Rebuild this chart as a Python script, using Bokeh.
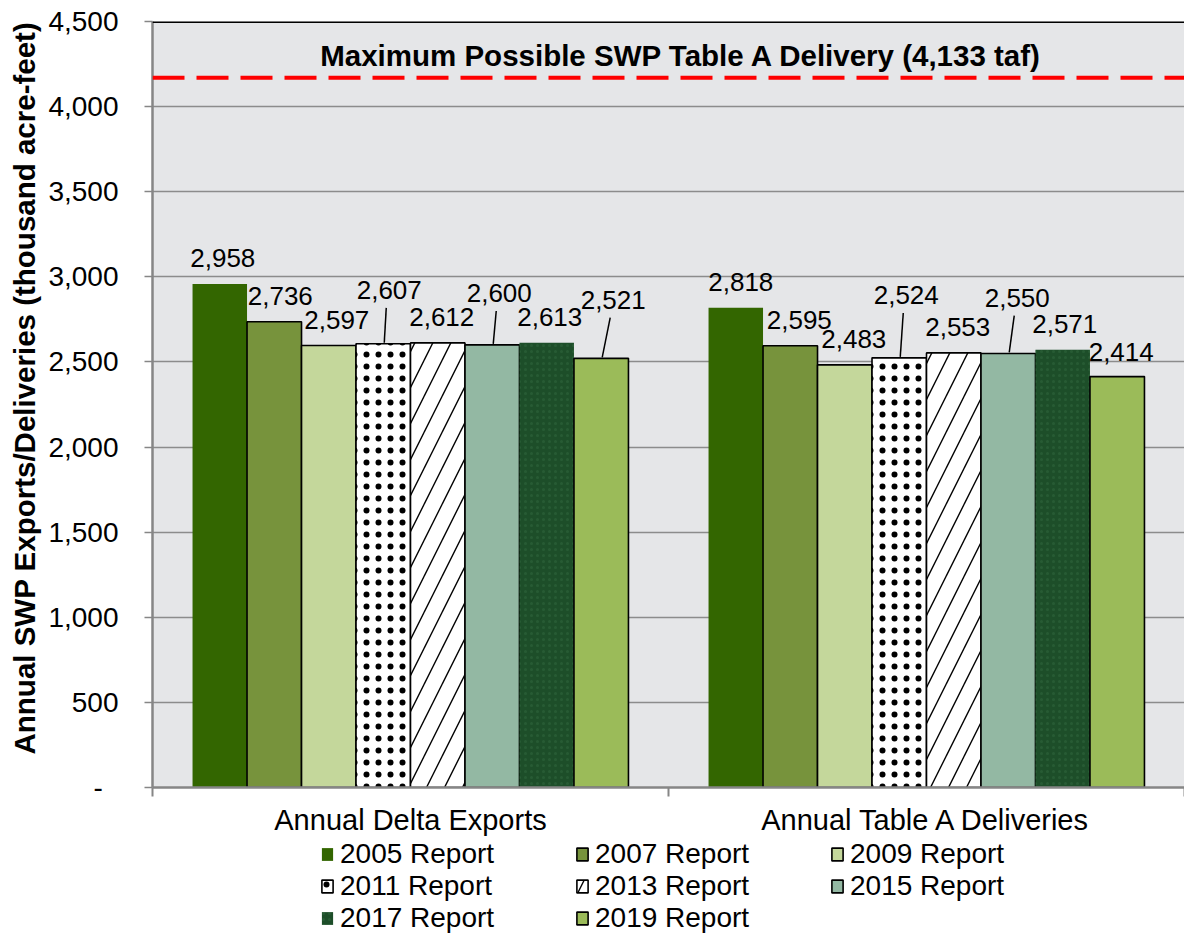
from bokeh.plotting import figure
from bokeh.layouts import column
from bokeh.models import (FixedTicker, Span, Label, Legend, LegendItem, Range1d)
from bokeh.embed import file_html
from bokeh.resources import INLINE
from bokeh.core.properties import value

# ---------------- data ----------------
categories = ["Annual Delta Exports", "Annual Table A Deliveries"]
reports = ["2005 Report", "2007 Report", "2009 Report", "2011 Report",
           "2013 Report", "2015 Report", "2017 Report", "2019 Report"]
delta_exports = [2958, 2736, 2597, 2607, 2612, 2600, 2613, 2521]
table_a_deliveries = [2818, 2595, 2483, 2524, 2553, 2550, 2571, 2414]
max_delivery_label = "Maximum Possible SWP Table A Delivery (4,133 taf)"
max_line_level = 4170
y_ticks = [0, 500, 1000, 1500, 2000, 2500, 3000, 3500, 4000, 4500]
y_tick_labels = ["-\u00a0\u00a0", "500", "1,000", "1,500", "2,000", "2,500",
                 "3,000", "3,500", "4,000", "4,500"]

# ---------------- styles ----------------
fills = ["#336600", "#77933C", "#C4D79B", "#FFFFFF", "#FFFFFF", "#93B8A3", "#1D4E29", "#9BBB59"]
outlines = [None, "black", "black", "black", "black", "black", None, "black"]
hatches = [None, None, None, "dot", "right_diagonal_line", None, "dot", None]
hatch_colors = ["black", "black", "black", "black", "black", "black", "#3F7D50", "black"]
hatch_alphas = [1, 1, 1, 1, 1, 1, 0.28, 1]
hatch_scales = [12, 12, 12, 12, 36, 12, 6, 12]
hatch_weights = [1, 1, 1, 0.5, 1.4, 1, 3, 1]

# label offsets (screen px): dx right, dy up from bar top
label_dx = [[3, 6, 8, 6, 4, 7, 3, 12], [5, 9, 9, 7, 4, 9, 2, 4]]
label_dy = [[26, 26, 26, 54, 26, 52, 26, 59], [26, 26, 26, 63, 26, 56, 26, 25]]

FONT = "Liberation Sans"
W = 1184
B_LEFT, B_TOP, B_BOTTOM = 152, 21, 48
FRAME_H = 769
H = B_TOP + FRAME_H + B_BOTTOM
LEG_H = 96
frame_w = W - B_LEFT
y_max = 4500
ppx = frame_w / 2.0
ppy = FRAME_H / y_max


def style_kw(i):
    kw = dict(fill_color=fills[i])
    if outlines[i] is None:
        kw.update(line_color=None)
    else:
        kw.update(line_color=outlines[i], line_width=1.6)
    if hatches[i] is not None:
        kw.update(hatch_pattern=hatches[i], hatch_color=hatch_colors[i],
                  hatch_alpha=hatch_alphas[i], hatch_scale=hatch_scales[i],
                  hatch_weight=hatch_weights[i])
    return kw


p = figure(width=W, height=H, x_range=Range1d(0, 2), y_range=Range1d(0, y_max),
           output_backend="svg", toolbar_location=None,
           min_border_left=B_LEFT, min_border_right=0, min_border_top=B_TOP,
           min_border_bottom=B_BOTTOM, background_fill_color="#E5E6E8",
           border_fill_color="white", outline_line_color=None)

bar_w = 0.1056
n = len(reports)
series = [delta_exports, table_a_deliveries]
for i in range(n):
    off = (i - (n - 1) / 2.0) * bar_w
    xs = [0.5 + off, 1.5 + off]
    tops = [delta_exports[i], table_a_deliveries[i]]
    p.vbar(x=xs, top=tops, width=bar_w, bottom=0, **style_kw(i))

# data labels and leader lines
lx, ly, lt = [], [], []
sx0, sy0, sx1, sy1 = [], [], [], []
for g in range(2):
    for i in range(n):
        off = (i - (n - 1) / 2.0) * bar_w
        bx = 0.5 + g + off
        v = series[g][i]
        dx = label_dx[g][i]
        dy = label_dy[g][i]
        lx.append(bx + dx / ppx)
        ly.append(v + dy / ppy)
        lt.append(f"{v:,}")
        if dy > 40:
            sx0.append(bx + (dx - 3) / ppx)
            sy0.append(v + (dy - 18) / ppy)
            sx1.append(bx + 1 / ppx)
            sy1.append(v + 1 / ppy)

p.segment(x0=sx0, y0=sy0, x1=sx1, y1=sy1, line_color="black", line_width=1.5)
p.text(x=lx, y=ly, text=lt, text_font=value(FONT), text_font_size="26px",
       text_align="center", text_baseline="middle", text_color="black")

# max delivery line and label
p.add_layout(Span(location=max_line_level, dimension="width", line_color="#FF0000",
                  line_width=4, line_dash="32 12"))
p.add_layout(Span(location=y_max, dimension="width", line_color="black", line_width=3))
p.add_layout(Label(x=1.025, y=4298, text=max_delivery_label, text_font=FONT,
                   text_font_size="29.5px", text_font_style="bold",
                   text_align="center", text_baseline="middle", text_color="black"))

# axes
p.xgrid.grid_line_color = None
p.ygrid.ticker = FixedTicker(ticks=y_ticks)
p.ygrid.grid_line_color = "#8C8C8C"
p.ygrid.grid_line_width = 1.5

xa = p.xaxis[0]
xa.ticker = FixedTicker(ticks=[0.5, 1.5], minor_ticks=[0, 1, 2])
xa.major_label_overrides = {0.5: categories[0], 1.5: categories[1]}
xa.major_tick_line_color = None
xa.minor_tick_line_color = "#868686"
xa.minor_tick_line_width = 2
xa.minor_tick_out = 9
xa.minor_tick_in = 0
xa.axis_line_color = "#868686"
xa.axis_line_width = 2.5
xa.major_label_standoff = 7
xa.major_label_text_font = FONT
xa.major_label_text_font_size = "29px"
xa.major_label_text_color = "black"

ya = p.yaxis[0]
ya.ticker = FixedTicker(ticks=y_ticks)
ya.major_label_overrides = {t: l for t, l in zip(y_ticks, y_tick_labels)}
ya.major_tick_line_color = "#868686"
ya.major_tick_line_width = 1.5
ya.major_tick_out = 8
ya.major_tick_in = 0
ya.minor_tick_line_color = None
ya.axis_line_color = "#868686"
ya.axis_line_width = 2.5
ya.major_label_standoff = 26
ya.major_label_text_font = FONT
ya.major_label_text_font_size = "28px"
ya.major_label_text_color = "black"
ya.axis_label = "\u00a0\u00a0\u00a0\u00a0Annual SWP Exports/Deliveries (thousand acre-feet)"
ya.axis_label_text_font = FONT
ya.axis_label_text_font_size = "29.5px"
ya.axis_label_text_font_style = "bold"
ya.axis_label_text_color = "black"
ya.axis_label_standoff = 4

# legend in its own strip below the chart (legend-only bar glyphs of zero size)
q = figure(width=W, height=LEG_H, x_range=Range1d(0, 1), y_range=Range1d(0, 1),
           output_backend="svg", toolbar_location=None, min_border=0,
           x_axis_location=None, y_axis_location=None,
           outline_line_color=None, background_fill_color="white",
           border_fill_color="white")
q.grid.visible = False
leg_renderers = []
for i in range(n):
    leg_renderers.append(q.vbar(x=[0.97], top=[0.5], width=0, bottom=[0.5], **style_kw(i)))

order = [0, 3, 6, 1, 4, 7, 2, 5]
legend = Legend(items=[LegendItem(label=reports[i], renderers=[leg_renderers[i]]) for i in order],
                location=(168, 0), orientation="vertical", nrows=3,
                spacing=0, padding=0, margin=0,
                glyph_width=14, glyph_height=16, label_standoff=6,
                label_width=235, label_height=30,
                label_text_font=FONT, label_text_font_size="28px",
                label_text_color="black",
                background_fill_alpha=0, border_line_color=None)
q.add_layout(legend)

layout = column(p, q, spacing=0)
open("out.html", "w").write(file_html(layout, INLINE))
